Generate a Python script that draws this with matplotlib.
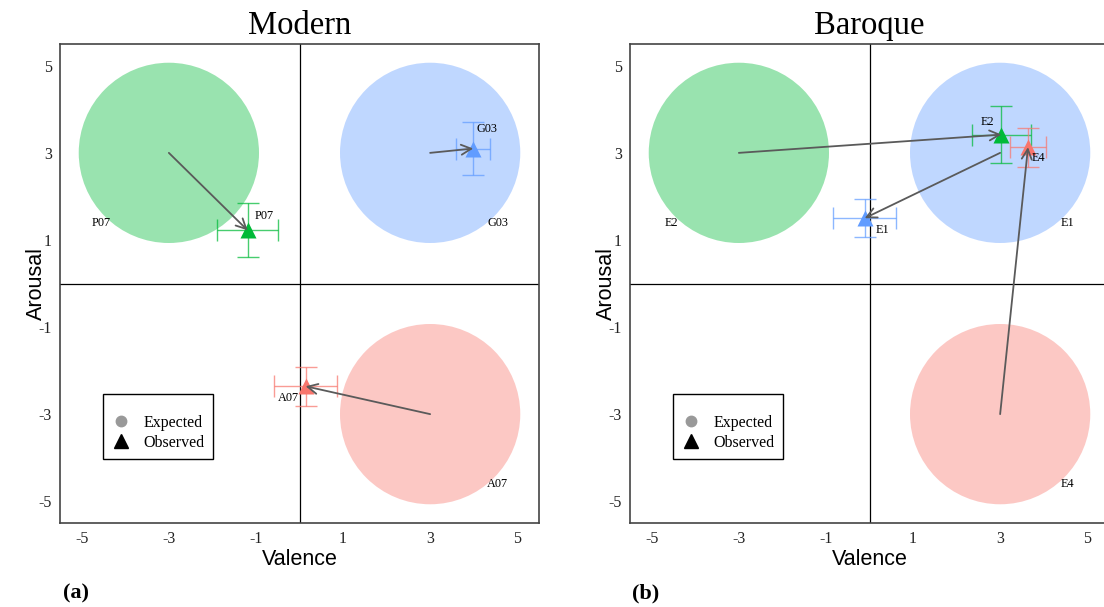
import matplotlib.pyplot as plt
from matplotlib.lines import Line2D
from matplotlib.patches import Circle

SERIF = 'Liberation Serif'
SANS = 'Liberation Sans'
plt.rcParams['axes.unicode_minus'] = False

# quadrant colours (green, blue, red)
quad_colors = ['#00BA38', '#619CFF', '#F8766D']

# Modern stimuli
modern_labels = ['P07', 'G03', 'A07']
modern_exp_val = [-3, 3, 3]
modern_exp_aro = [3, 3, -3]
modern_obs_val = [-1.19, 3.99, 0.14]
modern_obs_aro = [1.22, 3.10, -2.36]
modern_val_err = [0.70, 0.39, 0.73]
modern_aro_err = [0.62, 0.61, 0.45]

# Baroque stimuli
baroque_labels = ['E2', 'E1', 'E4']
baroque_exp_val = [-3, 3, 3]
baroque_exp_aro = [3, 3, -3]
baroque_obs_val = [3.03, -0.11, 3.64]
baroque_obs_aro = [3.42, 1.50, 3.13]
baroque_val_err = [0.67, 0.73, 0.42]
baroque_aro_err = [0.645, 0.44, 0.45]

ticks = [-5, -3, -1, 1, 3, 5]

# where the observed-point labels sit relative to the point
modern_lab_off = [(0.15, 0.32), (0.08, 0.45), (-0.64, -0.27)]
baroque_lab_off = [(-0.48, 0.29), (0.24, -0.28), (0.09, -0.25)]


def plot_panel(ax, title, labels, ev, ea, ov, oa, verr, aerr, offsets):
    ax.set_xlim(-5.5, 5.5)
    ax.set_ylim(-5.5, 5.5)
    ax.axhline(0, color='black', lw=0.9, zorder=0.5)
    ax.axvline(0, color='black', lw=0.9, zorder=0.5)

    for i, lab in enumerate(labels):
        c = quad_colors[i]
        ax.add_patch(Circle((ev[i], ea[i]), 2.07, facecolor=c, alpha=0.4,
                            edgecolor='none', zorder=1))
        # expected label sits below-outside the circle
        side = 1 if ev[i] > 0 else -1
        ax.text(ev[i] + side * 1.55, ea[i] - 1.6, lab, fontsize=8.8,
                family=SERIF, ha='center', va='center', zorder=5)

    for i, lab in enumerate(labels):
        c = quad_colors[i]
        ax.errorbar(ov[i], oa[i], xerr=verr[i], yerr=aerr[i], fmt='none',
                    ecolor=c, elinewidth=1.0, capsize=8, capthick=1.0,
                    alpha=0.72, zorder=2)
        ax.plot(ov[i], oa[i], marker='^', ms=11, color=c, mec='none',
                ls='none', zorder=3)
        dx, dy = offsets[i]
        ax.text(ov[i] + dx, oa[i] + dy, lab, fontsize=8.8, family=SERIF,
                ha='left', va='center', zorder=5)

    for i in range(len(labels)):
        ax.annotate('', xy=(ov[i], oa[i]), xytext=(ev[i], ea[i]),
                    arrowprops=dict(arrowstyle='->', color='#5a5a5a', lw=1.3,
                                    shrinkA=0, shrinkB=0, mutation_scale=18),
                    zorder=4)

    ax.set_xticks(ticks)
    ax.set_yticks(ticks)
    ax.tick_params(length=0, labelsize=11.5, labelcolor='#222222', pad=6)
    for t in ax.get_xticklabels() + ax.get_yticklabels():
        t.set_family(SERIF)
    for s in ax.spines.values():
        s.set_color('#444444')
        s.set_linewidth(1.2)

    ax.set_xlabel('Valence', family=SANS, fontsize=15.5, labelpad=1)
    ax.set_ylabel('Arousal', family=SANS, fontsize=15.5, labelpad=-6)
    ax.set_title(title, family=SERIF, fontsize=23.5, pad=7)

    handles = [
        Line2D([], [], marker='o', color='#999999', ls='none', ms=7.5),
        Line2D([], [], marker='^', color='black', ls='none', ms=10),
    ]
    leg = ax.legend(handles, ['Expected', 'Observed'], loc='lower left',
                    bbox_to_anchor=(0.09, 0.134), borderaxespad=0,
                    prop={'family': SERIF, 'size': 11.5},
                    title=' ', title_fontproperties={'size': 6},
                    frameon=True, fancybox=False, edgecolor='black',
                    framealpha=1, borderpad=0.5, labelspacing=0.25,
                    handletextpad=0.85, handlelength=1.2)
    leg.get_frame().set_linewidth(1.0)


W, H = 1104, 607
fig = plt.figure(figsize=(W / 100, H / 100), dpi=100)
ax_a = fig.add_axes([60 / W, (H - 523) / H, 479 / W, 479 / H])
ax_b = fig.add_axes([630 / W, (H - 523) / H, 479 / W, 479 / H])

plot_panel(ax_a, 'Modern', modern_labels, modern_exp_val, modern_exp_aro,
           modern_obs_val, modern_obs_aro, modern_val_err, modern_aro_err,
           modern_lab_off)
plot_panel(ax_b, 'Baroque', baroque_labels, baroque_exp_val, baroque_exp_aro,
           baroque_obs_val, baroque_obs_aro, baroque_val_err, baroque_aro_err,
           baroque_lab_off)

fig.text(63 / W, 1 - 593 / H, '(a)', family=SERIF, fontweight='bold',
         fontsize=16, ha='left', va='center')
fig.text(632 / W, 1 - 593 / H, '(b)', family=SERIF, fontweight='bold',
         fontsize=16, ha='left', va='center')

fig.savefig('out.png', dpi=100)
plt.close(fig)
